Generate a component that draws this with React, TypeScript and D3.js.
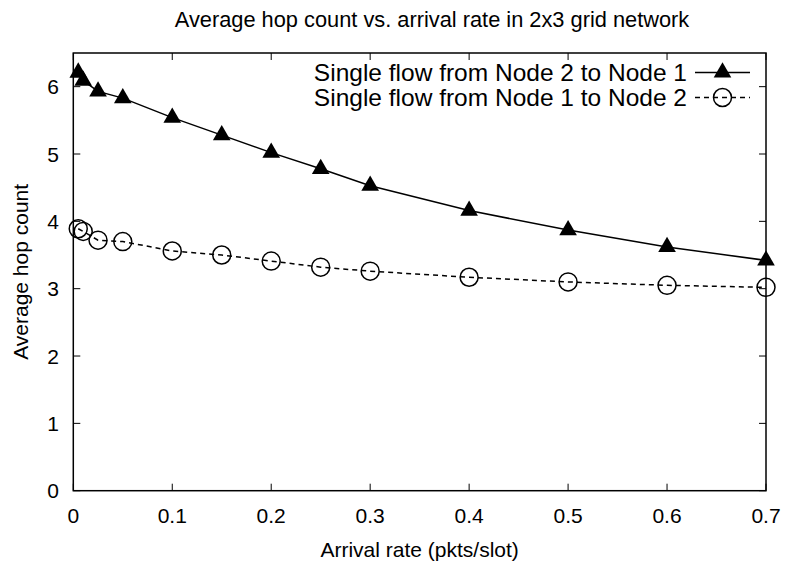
import React, { useEffect, useRef } from 'react';
import * as d3 from 'd3';

const rates = [0.005, 0.01, 0.025, 0.05, 0.1, 0.15, 0.2, 0.25, 0.3, 0.4, 0.5, 0.6, 0.7];
const flow21 = [6.21, 6.09, 5.93, 5.83, 5.54, 5.28, 5.02, 4.78, 4.53, 4.16, 3.87, 3.62, 3.42];
const flow12 = [3.89, 3.85, 3.72, 3.70, 3.56, 3.50, 3.41, 3.32, 3.26, 3.17, 3.10, 3.05, 3.02];
const xTicks = [0, 0.1, 0.2, 0.3, 0.4, 0.5, 0.6, 0.7];
const yTicks = [0, 1, 2, 3, 4, 5, 6];
const seriesNames = ['Single flow from Node 2 to Node 1', 'Single flow from Node 1 to Node 2'];

function App() {
    const svgRef = useRef<SVGSVGElement>(null);

    useEffect(() => {
        const W = 789, H = 567;
        const left = 73.3, right = 766, top = 53, bottom = 490.7;
        const font = '"Liberation Sans", Arial, Helvetica, sans-serif';
        const fs = 21;

        const svg = d3.select(svgRef.current)
            .attr('width', W)
            .attr('height', H);
        svg.selectAll('*').remove();

        const x = d3.scaleLinear().domain([0, 0.7]).range([left, right]);
        const y = d3.scaleLinear().domain([0, 6.5]).range([bottom, top]);

        svg.append('rect').attr('width', W).attr('height', H).attr('fill', '#fff');

        // ticks, mirrored on all four sides
        const tl = 7;
        const g = svg.append('g').attr('stroke', '#000').attr('stroke-width', 1);
        xTicks.forEach(t => {
            g.append('line').attr('x1', x(t)).attr('x2', x(t)).attr('y1', bottom).attr('y2', bottom - tl);
            g.append('line').attr('x1', x(t)).attr('x2', x(t)).attr('y1', top).attr('y2', top + tl);
        });
        yTicks.forEach(t => {
            g.append('line').attr('x1', left).attr('x2', left + tl).attr('y1', y(t)).attr('y2', y(t));
            g.append('line').attr('x1', right).attr('x2', right - tl).attr('y1', y(t)).attr('y2', y(t));
        });

        svg.append('rect')
            .attr('x', left).attr('y', top)
            .attr('width', right - left).attr('height', bottom - top)
            .attr('fill', 'none').attr('stroke', '#000').attr('stroke-width', 1.5);

        const txt = svg.append('g').style('font-family', font).style('font-size', `${fs}px`).attr('fill', '#000');

        txt.selectAll('.xt').data(xTicks).enter().append('text')
            .attr('x', d => x(d)).attr('y', 522.7)
            .attr('text-anchor', 'middle')
            .text(d => d3.format('')(d));

        txt.selectAll('.yt').data(yTicks).enter().append('text')
            .attr('x', 59).attr('y', d => y(d)).attr('dy', '0.36em')
            .attr('text-anchor', 'end')
            .text(d => d);

        txt.append('text').attr('x', 432).attr('y', 27)
            .attr('text-anchor', 'middle')
            .style('font-size', '21.8px')
            .text('Average hop count vs. arrival rate in 2x3 grid network');

        txt.append('text').attr('x', (left + right) / 2).attr('y', 556.7)
            .attr('text-anchor', 'middle')
            .text('Arrival rate (pkts/slot)');

        txt.append('text')
            .attr('transform', `translate(28,${(top + bottom) / 2}) rotate(-90)`)
            .attr('text-anchor', 'middle')
            .text('Average hop count');

        const line = d3.line<number>().x((d, i) => x(rates[i])).y(d => y(d));

        svg.append('path').datum(flow21).attr('d', line)
            .attr('fill', 'none').attr('stroke', '#000').attr('stroke-width', 1.5);
        svg.append('path').datum(flow12).attr('d', line)
            .attr('fill', 'none').attr('stroke', '#000').attr('stroke-width', 1.5)
            .attr('stroke-dasharray', '5,4');

        const tri = d3.symbol().type(d3.symbolTriangle).size(135);

        svg.selectAll('.tri').data(flow21).enter().append('path')
            .attr('d', tri)
            .attr('transform', (d, i) => `translate(${x(rates[i])},${y(d)})`)
            .attr('fill', '#000');

        svg.selectAll('.circ').data(flow12).enter().append('circle')
            .attr('cx', (d, i) => x(rates[i])).attr('cy', d => y(d))
            .attr('r', 9)
            .attr('fill', 'none').attr('stroke', '#000').attr('stroke-width', 1.5);

        // legend
        const rows = [72.5, 97.5];
        const lx1 = 695, lx2 = 750, mx = (lx1 + lx2) / 2;
        seriesNames.forEach((name, i) => {
            txt.append('text').attr('x', 687).attr('y', rows[i]).attr('dy', '0.36em')
                .attr('text-anchor', 'end')
                .style('font-size', '24.5px')
                .text(name);
            svg.append('line').attr('x1', lx1).attr('x2', lx2).attr('y1', rows[i]).attr('y2', rows[i])
                .attr('stroke', '#000').attr('stroke-width', 1.5)
                .attr('stroke-dasharray', i === 1 ? '5,4' : null);
        });
        svg.append('path').attr('d', tri).attr('transform', `translate(${mx},${rows[0]})`).attr('fill', '#000');
        svg.append('circle').attr('cx', mx).attr('cy', rows[1]).attr('r', 9)
            .attr('fill', 'none').attr('stroke', '#000').attr('stroke-width', 1.5);
    }, []);

    return (
        <svg ref={svgRef} style={{ position: 'absolute', left: 0, top: 0 }}></svg>
    );
}

export default App;
